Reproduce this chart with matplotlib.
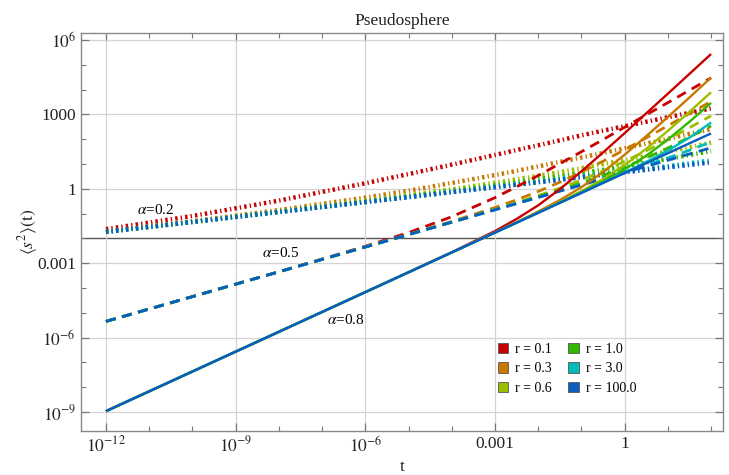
import numpy as np
import matplotlib
matplotlib.use("Agg")
import matplotlib.pyplot as plt
from matplotlib.patches import Patch
from matplotlib.ticker import FixedLocator, NullFormatter

plt.rcParams["font.family"] = ["Liberation Serif", "DejaVu Serif"]
plt.rcParams["mathtext.fontset"] = "stix"

# time grid, log10(t)
log_t = [-12, -10, -8, -6, -5, -4, -3, -2.5, -2, -1.5, -1, -0.5, 0, 0.5, 1, 1.5, 2]

r_values = ["0.1", "0.3", "0.6", "1.0", "3.0", "100.0"]
colors = ["#c80000", "#c87800", "#9cbe00", "#30b800", "#00bcbc", "#0a5cc0"]

# log10 <s^2>(t), alpha = 0.2  (dot-dashed)
a02_r01 = [-1.63, -1.10, -0.48, 0.22, 0.59, 0.97, 1.36, 1.56, 1.75, 1.95, 2.15, 2.34, 2.52, 2.70, 2.88, 3.06, 3.24]
a02_r03 = [-1.73, -1.31, -0.86, -0.36, -0.08, 0.23, 0.55, 0.72, 0.90, 1.08, 1.26, 1.44, 1.63, 1.82, 2.01, 2.21, 2.40]
a02_r06 = [-1.74, -1.33, -0.92, -0.49, -0.26, -0.02, 0.24, 0.38, 0.52, 0.67, 0.83, 0.99, 1.15, 1.32, 1.50, 1.67, 1.86]
a02_r10 = [-1.74, -1.34, -0.93, -0.52, -0.31, -0.09, 0.14, 0.25, 0.37, 0.50, 0.63, 0.76, 0.90, 1.05, 1.20, 1.36, 1.52]
a02_r30 = [-1.74, -1.34, -0.94, -0.54, -0.34, -0.13, 0.07, 0.17, 0.27, 0.38, 0.48, 0.59, 0.69, 0.80, 0.91, 1.03, 1.14]
a02_r100 = [-1.74, -1.34, -0.94, -0.54, -0.34, -0.14, 0.06, 0.16, 0.26, 0.36, 0.46, 0.56, 0.66, 0.76, 0.86, 0.96, 1.06]

# alpha = 0.5  (dashed)
a05_r01 = [-5.35, -4.35, -3.35, -2.32, -1.77, -1.13, -0.36, 0.08, 0.53, 1.01, 1.49, 1.98, 2.48, 2.98, 3.47, 3.97, 4.47]
a05_r03 = [-5.35, -4.35, -3.35, -2.35, -1.84, -1.32, -0.76, -0.45, -0.11, 0.26, 0.67, 1.11, 1.57, 2.05, 2.54, 3.03, 3.52]
a05_r06 = [-5.35, -4.35, -3.35, -2.35, -1.85, -1.34, -0.83, -0.56, -0.28, 0.02, 0.35, 0.71, 1.10, 1.53, 1.98, 2.46, 2.94]
a05_r10 = [-5.35, -4.35, -3.35, -2.35, -1.85, -1.35, -0.84, -0.58, -0.32, -0.05, 0.23, 0.54, 0.87, 1.24, 1.64, 2.08, 2.53]
a05_r30 = [-5.35, -4.35, -3.35, -2.35, -1.85, -1.35, -0.85, -0.60, -0.35, -0.09, 0.16, 0.42, 0.68, 0.95, 1.24, 1.55, 1.89]
a05_r100 = [-5.35, -4.35, -3.35, -2.35, -1.85, -1.35, -0.85, -0.60, -0.35, -0.10, 0.15, 0.40, 0.65, 0.90, 1.15, 1.40, 1.65]

# alpha = 0.8  (solid)
a08_r01 = [-8.97, -7.37, -5.77, -4.17, -3.37, -2.56, -1.71, -1.22, -0.67, -0.02, 0.70, 1.46, 2.24, 3.04, 3.83, 4.63, 5.43]
a08_r03 = [-8.97, -7.37, -5.77, -4.17, -3.37, -2.57, -1.76, -1.35, -0.92, -0.46, 0.06, 0.67, 1.37, 2.12, 2.89, 3.68, 4.48]
a08_r06 = [-8.97, -7.37, -5.77, -4.17, -3.37, -2.57, -1.77, -1.36, -0.96, -0.54, -0.10, 0.39, 0.95, 1.61, 2.33, 3.10, 3.89]
a08_r10 = [-8.97, -7.37, -5.77, -4.17, -3.37, -2.57, -1.77, -1.37, -0.97, -0.56, -0.14, 0.29, 0.78, 1.33, 1.98, 2.70, 3.46]
a08_r30 = [-8.97, -7.37, -5.77, -4.17, -3.37, -2.57, -1.77, -1.37, -0.97, -0.57, -0.17, 0.24, 0.65, 1.08, 1.54, 2.06, 2.67]
a08_r100 = [-8.97, -7.37, -5.77, -4.17, -3.37, -2.57, -1.77, -1.37, -0.97, -0.57, -0.17, 0.23, 0.63, 1.03, 1.43, 1.83, 2.23]

families = [
    ([a02_r01, a02_r03, a02_r06, a02_r10, a02_r30, a02_r100], dict(lw=3.2, linestyle=(0, (0.55, 0.7, 0.3, 0.7)))),
    ([a05_r01, a05_r03, a05_r06, a05_r10, a05_r30, a05_r100], dict(lw=2.0, linestyle=(0, (3.6, 2.4)))),
    ([a08_r01, a08_r03, a08_r06, a08_r10, a08_r30, a08_r100], dict(lw=1.7, linestyle="-")),
]

fig = plt.figure(figsize=(7.29, 4.75), dpi=100)
ax = fig.add_axes([0.111, 0.0926, 0.881, 0.838])

t = 10.0 ** np.array(log_t)
for curves, style in families:
    for vals, c in zip(curves, colors):
        ax.plot(t, 10.0 ** np.array(vals), color=c, solid_capstyle="butt", dash_capstyle="butt", **style)

ax.set_xscale("log")
ax.set_yscale("log")
ax.set_xlim(10 ** -12.58, 10 ** 2.28)
ax.set_ylim(10 ** -9.77, 10 ** 6.28)

# axis line at 0.01
ax.axhline(0.01, color="#555555", lw=1.0, zorder=1)

xmaj = [1e-12, 1e-9, 1e-6, 1e-3, 1]
ymaj = [1e-9, 1e-6, 1e-3, 1, 1e3, 1e6]
ax.xaxis.set_major_locator(FixedLocator(xmaj))
ax.yaxis.set_major_locator(FixedLocator(ymaj))
ax.xaxis.set_minor_locator(FixedLocator([10.0 ** k for k in range(-12, 3) if 10.0 ** k not in xmaj]))
ax.yaxis.set_minor_locator(FixedLocator([10.0 ** k for k in range(-9, 7) if 10.0 ** k not in ymaj]))
ax.xaxis.set_minor_formatter(NullFormatter())
ax.yaxis.set_minor_formatter(NullFormatter())
ax.set_xticklabels([r"$10^{-12}$", r"$10^{-9}$", r"$10^{-6}$", "0.001", "1"])
ax.set_yticklabels([r"$10^{-9}$", r"$10^{-6}$", "0.001", "1", "1000", r"$10^{6}$"])

ax.tick_params(which="both", direction="in", top=True, right=True, color="#777777",
               labelsize=12.5, labelcolor="#222222")
ax.tick_params(which="major", length=6, width=0.9)
ax.tick_params(which="minor", length=3.5, width=0.8)
ax.grid(which="major", color="#d4d4d4", lw=0.9, zorder=0)
for s in ax.spines.values():
    s.set_color("#888888")
    s.set_linewidth(1.0)

ax.set_title("Pseudosphere", fontsize=12.5, pad=6, color="#222222")
ax.set_xlabel("t", fontsize=12.5, labelpad=2, color="#222222")
ax.set_ylabel(r"$\langle s^2\rangle(\mathrm{t})$", fontsize=12.5, labelpad=-2, color="#222222")

ax.text(10 ** -10.86, 10 ** -0.85, r"$\alpha$=0.2", fontsize=11, ha="center", va="center")
ax.text(10 ** -7.96, 10 ** -2.58, r"$\alpha$=0.5", fontsize=11, ha="center", va="center")
ax.text(10 ** -6.46, 10 ** -5.28, r"$\alpha$=0.8", fontsize=11, ha="center", va="center")

handles = [Patch(facecolor=c, edgecolor="#555555", lw=0.6) for c in colors]
labels = ["r = " + r for r in r_values]
ax.legend(handles, labels, ncol=2, loc="upper left", bbox_to_anchor=(0.64, 0.235), frameon=False,
          fontsize=10, handlelength=0.75, handleheight=0.75, handletextpad=0.5,
          columnspacing=1.2, labelspacing=0.45, borderaxespad=0)

fig.savefig("out.png", dpi=100)
